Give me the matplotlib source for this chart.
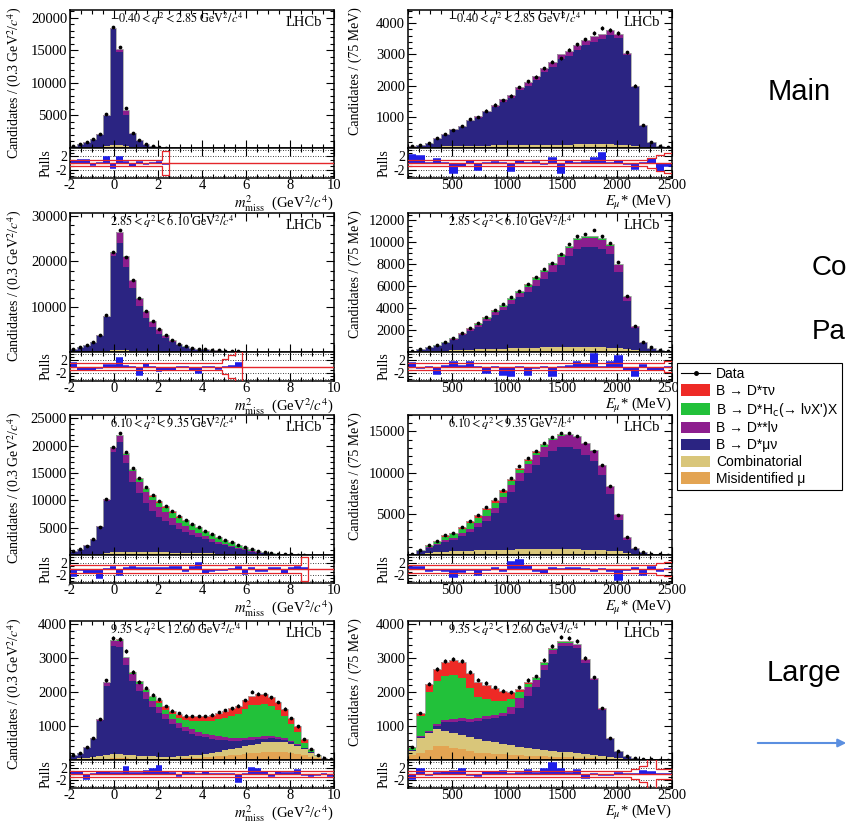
import numpy as np
import matplotlib
matplotlib.use("Agg")
import matplotlib.pyplot as plt
from matplotlib.ticker import MultipleLocator, FixedLocator
from matplotlib.lines import Line2D
from matplotlib.patches import Patch, FancyArrowPatch
from matplotlib.font_manager import FontProperties

plt.rcParams['font.family'] = ['Liberation Serif', 'DejaVu Serif']
plt.rcParams['mathtext.fontset'] = 'stix'
plt.rcParams['axes.unicode_minus'] = False

# ---------------- binning ----------------
mm_edges = np.linspace(-2.0, 10.0, 41)    # 0.3 GeV^2/c^4 bins
e_edges = np.linspace(100.0, 2500.0, 33)  # 75 MeV bins

q2_labels = [r"$-0.40 < q^{2} < 2.85\ \mathrm{GeV}^{2}/c^{4}$",
             r"$2.85 < q^{2} < 6.10\ \mathrm{GeV}^{2}/c^{4}$",
             r"$6.10 < q^{2} < 9.35\ \mathrm{GeV}^{2}/c^{4}$",
             r"$9.35 < q^{2} < 12.60\ \mathrm{GeV}^{2}/c^{4}$"]

legend_labels = ["Data", "B → D*τν", "B → D*H$_{\\rm c}$(→ lνX')X", "B → D**lν",
                 "B → D*μν", "Combinatorial", "Misidentified μ"]

# ---------------- row 1, m2miss ----------------
r1m_data = [300, 560, 850, 1400, 2200, 5200, 18600, 15500, 6100, 2300, 1200, 560, 260, 100, 40]
r1m_fit = [300, 560, 870, 1400, 2150, 5100, 18500, 15200, 5900, 2350, 1180, 560, 260, 100, 40]
r1m_mis = [20, 30, 40, 50, 60, 100, 150, 150, 100, 60, 40, 20, 10, 5, 2]
r1m_comb = [30, 40, 60, 80, 100, 200, 300, 300, 200, 100, 60, 30, 15, 5, 3]
r1m_dss = [10, 20, 30, 50, 80, 150, 200, 500, 800, 150, 100, 50, 20, 10, 5]
r1m_hc = [0] * 15
r1m_tau = [0] * 15
r1m_pull = [0.5, 0.8, 0.8, -0.5, 0, 1.8, -1.5, 1.8, 0.3, -0.8, 0.3, -0.2, 0, 0.2, -0.3]
r1m_band = [1.0] * 14 + [3.5]

# ---------------- row 2, m2miss ----------------
r2m_data = [735, 1180, 1540, 2200, 3700, 8100, 22000, 27000, 21000, 16000, 11900, 9000, 6800,
            5000, 3800, 2600, 1840, 1250, 950, 740, 590, 440, 370, 300, 220, 150]
r2m_fit = [700, 1150, 1550, 2250, 3650, 8000, 22000, 26600, 21200, 16000, 12000, 9100, 6800,
           5000, 3800, 2650, 1850, 1280, 950, 760, 600, 450, 370, 300, 220, 140]
r2m_mis = [15, 20, 25, 30, 40, 60, 80, 80, 70, 60, 50, 40, 30, 25, 20, 15, 10, 8, 6, 5, 4, 3, 2, 2, 1, 1]
r2m_comb = [40, 60, 80, 100, 130, 200, 300, 300, 280, 250, 200, 150, 120, 90, 70, 50, 40, 30, 25,
            20, 15, 10, 8, 5, 3, 2]
r2m_dss = [20, 40, 60, 90, 150, 300, 800, 2500, 2400, 1800, 1600, 1250, 1000, 740, 500, 350, 250,
           170, 110, 80, 60, 40, 30, 20, 15, 10]
r2m_hc = [0, 0, 0, 0, 5, 10, 30, 60, 80, 100, 150, 200, 200, 180, 150, 120, 90, 70, 50, 40, 30,
          20, 15, 10, 5, 3]
r2m_tau = [0, 0, 0, 0, 0, 5, 10, 20, 30, 40, 50, 60, 60, 50, 40, 30, 25, 20, 15, 10, 8, 5, 3, 2, 1, 0]
r2m_pull = [1, -1.2, -1.2, -1.2, -0.5, 0.5, 0.5, 2.5, 0.3, 0, -2.5, 0.7, -0.3, -1.3, -1, -1, 0,
            0, -1.2, -2, -0.3, -0.3, -0.8, 0, 0.2, 1]
r2m_band = [1.2] * 23 + [2.2, 3.6, 4.8]

# ---------------- row 3, m2miss ----------------
r3m_data = [730, 1100, 1700, 2870, 5200, 10300, 19800, 22250, 18900, 16000, 14100, 12400, 11000,
            9900, 8960, 8050, 7130, 6400, 5730, 5120, 4450, 3840, 3300, 2800, 2300, 1900, 1520,
            1100, 790, 550, 370, 240, 180, 120, 60, 40]
r3m_fit = [800, 1150, 1750, 2850, 5250, 10300, 19700, 22000, 18600, 15800, 14000, 12300, 10900,
           9800, 8900, 8000, 7100, 6400, 5700, 5100, 4450, 3850, 3300, 2800, 2300, 1900, 1520,
           1100, 790, 550, 370, 240, 180, 120, 60, 40]
r3m_mis = [15, 20, 25, 30, 50, 100, 150, 150, 150, 150, 150, 150, 140, 130, 120, 110, 100, 90, 80,
           70, 60, 55, 50, 45, 40, 35, 30, 25, 20, 15, 10, 8, 5, 4, 3, 2]
r3m_comb = [50, 70, 90, 120, 180, 300, 400, 450, 450, 450, 450, 420, 400, 380, 360, 340, 320, 300,
            280, 260, 240, 220, 200, 180, 160, 140, 120, 100, 80, 60, 50, 40, 30, 25, 15, 10]
r3m_dss = [20, 30, 50, 80, 150, 400, 800, 1100, 1500, 1900, 2100, 2000, 1900, 1800, 1600, 1400,
           1200, 1000, 850, 700, 550, 450, 350, 280, 200, 150, 110, 80, 50, 30, 20, 10, 5, 3, 2, 1]
r3m_hc = [0, 0, 0, 5, 10, 50, 100, 150, 250, 350, 450, 600, 700, 800, 850, 900, 900, 900, 900,
          850, 800, 750, 700, 620, 550, 480, 400, 320, 250, 180, 120, 80, 50, 30, 15, 8]
r3m_tau = [0, 0, 0, 0, 5, 0, 30, 50, 80, 120, 150, 200, 230, 250, 270, 280, 280, 270, 260, 240,
           220, 200, 180, 160, 140, 120, 100, 80, 60, 40, 30, 20, 10, 5, 3, 2]
r3m_pull = [-2.3, -0.3, -1.3, -1.3, -3, 0, 0.5, -1.8, 0.3, 0.6, 0.3, 0.2, 0.2, 0.2, 0.3, 0.5, 0.5,
            -0.5, 0.8, 2, -1.2, -0.8, -0.3, -0.3, 0, 0.7, -1.5, 0.3, -0.5, -0.5, 0.2, 0.4, -1.2,
            0.3, 0.5, 0.3]
r3m_band = [1.2] * 35 + [4.0]

# ---------------- row 4, m2miss ----------------
r4m_data = [150, 220, 370, 640, 1200, 2350, 3590, 3560, 3220, 2600, 2310, 2130, 1920, 1790, 1590,
            1460, 1380, 1310, 1300, 1300, 1300, 1340, 1410, 1480, 1520, 1600, 1770, 2010, 1960,
            1940, 1850, 1710, 1510, 1240, 990, 610, 330, 150, 50, 20]
r4m_fit = [150, 220, 370, 640, 1200, 2300, 3550, 3560, 3050, 2600, 2320, 2105, 1900, 1760, 1580,
           1460, 1370, 1310, 1290, 1295, 1310, 1335, 1390, 1460, 1520, 1595, 1760, 1900, 1935,
           1950, 1855, 1715, 1510, 1245, 990, 615, 335, 150, 51, 20]
r4m_mis = [10, 15, 20, 25, 30, 40, 50, 50, 45, 40, 35, 30, 30, 30, 30, 35, 40, 45, 55, 65, 80, 95,
           110, 125, 140, 160, 180, 200, 220, 240, 250, 250, 240, 220, 190, 150, 100, 50, 20, 8]
r4m_comb = [30, 40, 50, 60, 80, 100, 120, 120, 110, 100, 90, 80, 75, 70, 65, 65, 70, 75, 85, 95,
            110, 125, 140, 160, 180, 200, 220, 240, 260, 280, 290, 290, 280, 260, 220, 170, 110,
            60, 20, 8]
r4m_dss = [5, 10, 15, 25, 50, 100, 150, 200, 200, 200, 200, 190, 180, 170, 160, 150, 140, 130, 120,
           115, 110, 105, 100, 95, 90, 85, 80, 80, 75, 70, 65, 60, 50, 40, 30, 20, 10, 5, 2, 1]
r4m_hc = [0, 0, 0, 0, 0, 10, 20, 30, 30, 40, 50, 70, 90, 110, 130, 150, 170, 200, 250, 310, 370,
          430, 500, 570, 640, 700, 840, 950, 950, 960, 880, 780, 650, 480, 350, 150, 60, 17, 4, 1]
r4m_tau = [0, 0, 0, 0, 0, 0, 10, 10, 15, 20, 25, 35, 55, 80, 95, 110, 120, 130, 140, 150, 160, 170,
           190, 210, 220, 240, 260, 280, 300, 290, 270, 250, 220, 190, 160, 100, 40, 10, 2, 1]
r4m_pull = [0.7, 0.8, -1.5, 0, 0.8, 0.5, 0.3, 0.3, 2.2, 0.4, 0.4, 1, 1.5, 2.5, 0.8, 0.4, -0.5,
            0.5, 0.3, 0, 0.8, 0, 0, 0, 0, -2.5, 0, 1.8, 1.6, 0.8, -0.8, 0.5, 0.3, 0.3, 1.2, -0.3,
            -0.5, -0.3, 0, -0.8]
r4m_band = [1.1] * 40

# ---------------- row 1, E_mu ----------------
r1e_data = [70, 100, 175, 330, 440, 580, 700, 940, 1000, 1200, 1390, 1530, 1680, 1950, 2130, 2290,
            2550, 2760, 2870, 3150, 3320, 3480, 3690, 3850, 3770, 3690, 3060, 2000, 730, 200, 70, 30]
r1e_fit = [50, 100, 170, 310, 440, 600, 720, 900, 1030, 1200, 1370, 1560, 1690, 1950, 2110, 2300,
           2550, 2740, 3000, 3120, 3300, 3470, 3580, 3650, 3780, 3650, 3050, 2000, 730, 200, 70, 30]
r1e_mis = [5, 5, 10, 10, 15, 15, 20, 20, 20, 25, 25, 25, 30, 30, 30, 30, 35, 35, 35, 35, 35, 35,
           35, 35, 35, 30, 25, 20, 10, 5, 2, 1]
r1e_comb = [15, 20, 25, 30, 35, 40, 45, 50, 55, 55, 60, 60, 65, 65, 70, 70, 70, 75, 75, 75, 80, 80,
            85, 85, 80, 75, 60, 40, 20, 10, 5, 2]
r1e_dss = [5, 10, 15, 20, 25, 30, 40, 50, 55, 60, 70, 80, 90, 100, 110, 120, 130, 140, 150, 160,
           170, 170, 170, 160, 150, 120, 80, 50, 20, 5, 2, 1]
r1e_hc = [0] * 32
r1e_tau = [0] * 32
r1e_pull = [2.5, 2, 0, 1.3, 0, -3, -1, 0.5, -2, 0, 0.2, 0, -2.5, 0.5, 0, 0.2, -0.2, 1.5, -3, 0.5,
            0, 0.3, 1.5, 3, 0, 0.5, -0.3, -1.8, 0, 1.2, -2.3, -0.8]
r1e_band = [1.0] * 29 + [1.6, 2.5, 3.0]

# ---------------- row 2, E_mu ----------------
r2e_data = [110, 260, 475, 630, 930, 1300, 1700, 2150, 2600, 3150, 3830, 4350, 4980, 5600, 6170,
            6800, 7550, 8150, 8920, 9830, 10530, 10780, 11150, 10530, 9920, 8180, 5140, 2390, 930,
            415, 200, 110]
r2e_fit = [110, 260, 470, 620, 900, 1250, 1700, 2150, 2600, 3150, 3800, 4300, 4950, 5600, 6170,
           6800, 7500, 8150, 8900, 9700, 10400, 10600, 10600, 10400, 9800, 8000, 5100, 2400, 900,
           400, 200, 110]
r2e_mis = [10, 15, 20, 25, 30, 35, 40, 45, 50, 55, 60, 65, 70, 75, 80, 85, 90, 95, 100, 100, 100,
           100, 100, 95, 90, 80, 65, 45, 25, 10, 5, 2]
r2e_comb = [20, 40, 60, 80, 100, 120, 140, 160, 180, 200, 220, 240, 260, 280, 300, 320, 330, 340,
            350, 360, 360, 360, 350, 340, 320, 280, 220, 150, 80, 30, 15, 5]
r2e_dss = [5, 15, 30, 40, 60, 90, 120, 150, 190, 230, 280, 320, 370, 420, 460, 510, 570, 620, 680,
           740, 800, 820, 840, 820, 760, 620, 380, 170, 60, 20, 8, 3]
r2e_hc = [5, 10, 20, 25, 35, 50, 60, 75, 90, 100, 120, 130, 140, 150, 160, 170, 180, 185, 190, 190,
          190, 180, 170, 150, 120, 90, 60, 30, 10, 5, 2, 1]
r2e_tau = [0, 2, 4, 5, 8, 10, 15, 20, 25, 30, 35, 40, 45, 50, 55, 60, 60, 60, 55, 50, 45, 40, 35,
           30, 25, 20, 15, 8, 3, 1, 0, 0]
r2e_pull = [1, -0.5, 0, -2.3, 0.3, 1.5, 0.3, 1.5, 0, -2, 0, -2.5, -2.8, 0, -2.5, -0.5, 0, -3, 0,
            0.2, 1.5, 0.8, 4, 0, 1.5, 3.2, -1.2, -3, 0.5, -1, -1.2, 0]
r2e_band = [1.2] * 31 + [1.6]

# ---------------- row 3, E_mu ----------------
r3e_data = [100, 590, 1240, 1730, 2390, 2710, 3450, 4180, 4880, 5820, 6760, 7940, 9370, 10800,
            11730, 12670, 13570, 14270, 14760, 14760, 14510, 13650, 12670, 10920, 8390, 4880, 2220,
            840, 390, 180, 100, 20]
r3e_fit = [100, 580, 1220, 1720, 2380, 2700, 3450, 4150, 4850, 5750, 6650, 7850, 9250, 10600,
           11650, 12600, 13500, 14250, 14700, 14700, 14450, 13600, 12700, 10900, 8400, 4950, 2200,
           850, 390, 180, 100, 20]
r3e_mis = [20, 60, 100, 120, 150, 160, 170, 175, 175, 170, 165, 160, 155, 150, 145, 140, 135, 130,
           125, 120, 110, 100, 90, 80, 70, 55, 40, 25, 10, 5, 3, 1]
r3e_comb = [30, 80, 150, 200, 250, 280, 320, 350, 380, 410, 440, 470, 500, 520, 540, 560, 570, 580,
            590, 590, 580, 560, 540, 500, 450, 380, 260, 130, 50, 20, 10, 3]
r3e_dss = [5, 30, 80, 120, 180, 220, 300, 380, 450, 550, 600, 650, 800, 950, 1050, 1150, 1250,
           1350, 1420, 1450, 1450, 1400, 1300, 1150, 950, 700, 400, 170, 60, 25, 10, 2]
r3e_hc = [5, 60, 200, 300, 400, 450, 550, 650, 700, 700, 650, 550, 500, 450, 400, 330, 250, 180,
          120, 80, 50, 30, 20, 10, 5, 3, 2, 1, 0, 0, 0, 0]
r3e_tau = [2, 20, 80, 120, 180, 200, 250, 300, 320, 330, 320, 300, 280, 250, 220, 180, 140, 100,
           70, 50, 30, 20, 10, 5, 3, 2, 1, 0, 0, 0, 0, 0]
r3e_pull = [0.5, 0.5, -0.5, -0.2, -0.8, -2.5, -1, -0.3, -2, -0.2, 0.3, -0.8, 2.3, 2.8, 1, -0.7,
            -1.2, 0.3, 0, 0.3, 0.3, 0, -0.7, 0, -0.5, -3.5, -0.2, 0.2, -1.8, 0.8, -0.5, 0]
r3e_band = [1.3] * 30 + [1.8, 2.2]

# ---------------- row 4, E_mu ----------------
r4e_data = [390, 1390, 2250, 2680, 2920, 2980, 2920, 2590, 2370, 2270, 2140, 2040, 2000, 2140,
            2360, 2470, 2940, 3370, 3640, 3590, 3520, 3000, 2440, 1530, 660, 270, 120, 60, 30, 20,
            10, 5]
r4e_fit = [390, 1390, 2250, 2680, 2900, 2950, 2880, 2560, 2300, 2220, 2120, 2040, 2010, 2100,
           2300, 2450, 2880, 3300, 3500, 3500, 3430, 2970, 2430, 1520, 660, 270, 120, 60, 30, 20,
           10, 5]
r4e_mis = [150, 200, 300, 400, 400, 360, 320, 280, 220, 200, 180, 170, 160, 140, 130, 120, 110,
           100, 90, 80, 70, 60, 50, 40, 25, 15, 8, 4, 2, 1, 0, 0]
r4e_comb = [120, 450, 500, 520, 470, 440, 420, 400, 390, 370, 340, 310, 290, 250, 230, 200, 180,
            170, 160, 150, 140, 130, 110, 90, 60, 30, 15, 8, 4, 2, 1, 0]
r4e_dss = [10, 20, 30, 50, 60, 80, 90, 100, 80, 80, 90, 100, 200, 300, 250, 200, 150, 120, 100,
           100, 90, 80, 60, 40, 20, 10, 5, 2, 1, 0, 0, 0]
r4e_hc = [60, 600, 1150, 1270, 1300, 1310, 1200, 900, 610, 500, 420, 340, 260, 170, 100, 60, 40,
          30, 30, 30, 20, 15, 10, 5, 3, 2, 1, 0, 0, 0, 0, 0]
r4e_tau = [30, 90, 250, 350, 420, 440, 450, 450, 450, 420, 380, 310, 200, 100, 60, 40, 30, 20, 20,
           20, 15, 10, 8, 5, 3, 2, 1, 0, 0, 0, 0, 0]
r4e_pull = [-1.5, 1.7, -0.3, 0.3, 0.5, 1, 1.5, -0.3, -0.8, 0.7, 0.7, 1, 0, 0.4, 1.2, 0.3, 1.5,
            3.5, 1.5, 0.2, 1.2, -1.2, 0, -0.3, -0.3, 0.3, 0, 0, 1, 0.8, 0, 0]
r4e_band = [1.0] * 27 + [1.5, 2.5, 4.8, 1.5, 1.5]

# ---------------- styling ----------------
W, H = 846, 823
C_MIS = '#e3a452'
C_COMB = '#d9c67a'
C_DMU = '#2b2482'
C_DSS = '#8d1e8e'
C_HC = '#22c13a'
C_TAU = '#ee2a26'
C_PULL = '#1e1ee8'
C_RED = '#e4262a'
PULL_LIM = 4.5

fig = plt.figure(figsize=(W / 100, H / 100), dpi=100)


def fx(px):
    return px / W


def fy(px):
    return 1 - px / H


ROWS = [(10, 148, 178), (213, 352, 381), (415, 555, 583), (621, 760, 788)]
COLX = [70, 408]
AX_W = 264


def pad(a, n):
    a = np.asarray(a, dtype=float)
    return np.concatenate([a, np.zeros(n - len(a))])


def style_axis(ax):
    for s in ax.spines.values():
        s.set_linewidth(1.1)
    ax.tick_params(which='both', direction='in', top=True, right=True, labelsize=10.5,
                   width=0.8, pad=2)
    ax.tick_params(which='major', length=6)
    ax.tick_params(which='minor', length=3)


def panel(row, col, edges, data, fit, mis, comb, dss, hc, tau, pulls, band,
          ymax, ymaj, ymin_, ylab, xlab, xmaj, xmin_):
    n = len(edges) - 1
    top, mid, bot = ROWS[row]
    x0 = COLX[col]
    axm = fig.add_axes([fx(x0), fy(mid), AX_W / W, (mid - top) / H])
    axp = fig.add_axes([fx(x0), fy(bot), AX_W / W, (bot - mid) / H])

    data, fit, mis, comb, dss, hc, tau = [pad(a, n) for a in (data, fit, mis, comb, dss, hc, tau)]
    dmu = np.clip(fit - mis - comb - dss - hc - tau, 0, None)
    base = np.zeros(n)
    for vals, c in [(mis, C_MIS), (comb, C_COMB), (dmu, C_DMU), (dss, C_DSS), (hc, C_HC), (tau, C_TAU)]:
        axm.stairs(base + vals, edges, baseline=base.copy(), fill=True, color=c, lw=0)
        base = base + vals
    axm.stairs(base, edges, color='#a8a8a8', lw=0.6)
    centers = 0.5 * (edges[1:] + edges[:-1])
    m = data > 0
    axm.errorbar(centers[m], data[m], yerr=np.sqrt(data[m]), fmt='o', ms=2.7, mew=0, color='k',
                 elinewidth=0.8, capsize=0, zorder=5)
    axm.set_xlim(edges[0], edges[-1])
    axm.set_ylim(0, ymax)
    axm.yaxis.set_minor_locator(MultipleLocator(ymin_))
    axm.xaxis.set_major_locator(MultipleLocator(xmaj))
    axm.xaxis.set_minor_locator(MultipleLocator(xmin_))
    style_axis(axm)
    axm.tick_params(labelbottom=False)
    axm.set_yticks([t for t in np.arange(ymaj, ymax, ymaj)])
    axm.set_ylabel(ylab, fontsize=10, loc='top')
    axm.yaxis.set_label_coords(-0.175, 1.02)
    axm.text(0.15, 0.935, q2_labels[row], transform=axm.transAxes, fontsize=8.8,
             ha='left', va='center', zorder=6)
    axm.text(0.955, 0.91, 'LHCb', transform=axm.transAxes, fontsize=10.5,
             ha='right', va='center', zorder=6)

    # pulls
    npl = len(pulls)
    bw = edges[1] - edges[0]
    for yv in (-4, -2, 2, 4):
        axp.axhline(yv, color='k', lw=0.6, ls=(0, (1, 2)), zorder=0)
    axp.bar(centers[:npl], pulls, width=bw, color=C_PULL, lw=0, zorder=2)
    axp.hlines(pulls, edges[:npl], edges[1:npl + 1], color=C_PULL, lw=1.1, zorder=2)
    band = np.asarray(band, dtype=float)
    nb = len(band)
    xs = np.repeat(edges[:nb + 1], 2)[1:-1]
    ys = np.repeat(band, 2)
    if nb < n:
        xs = np.append(xs, edges[nb])
        ys = np.append(ys, 0)
    axp.plot(xs, ys, color=C_RED, lw=0.9, zorder=3)
    axp.plot(xs, -ys, color=C_RED, lw=0.9, zorder=3)
    axp.axhline(0, color=C_RED, lw=1.0, zorder=3)
    axp.set_xlim(edges[0], edges[-1])
    axp.set_ylim(-PULL_LIM, PULL_LIM)
    axp.yaxis.set_major_locator(FixedLocator([-2, 2]))
    axp.yaxis.set_minor_locator(MultipleLocator(1))
    axp.xaxis.set_major_locator(MultipleLocator(xmaj))
    axp.xaxis.set_minor_locator(MultipleLocator(xmin_))
    style_axis(axp)
    axp.tick_params(axis='y', labelsize=10)
    axp.tick_params(axis='x', pad=1)
    axp.set_yticklabels(['-2', '2'])
    axp.set_ylabel('Pulls', fontsize=10)
    axp.yaxis.set_label_coords(-0.068, 0.5)
    axp.set_xlabel(xlab, fontsize=10.5, loc='right', labelpad=0.5)
    return axm, axp


ylab_m = r"Candidates / (0.3 GeV$^{2}$/$c^{4}$)"
ylab_e = "Candidates / (75 MeV)"
xlab_m = r"$m^{2}_{\mathrm{miss}}$  (GeV$^{2}$/$c^{4}$)"
xlab_e = r"$E_{\mu}$* (MeV)"

panel(0, 0, mm_edges, r1m_data, r1m_fit, r1m_mis, r1m_comb, r1m_dss, r1m_hc, r1m_tau, r1m_pull,
      r1m_band, 21200, 5000, 1000, ylab_m, xlab_m, 2, 0.5)
panel(1, 0, mm_edges, r2m_data, r2m_fit, r2m_mis, r2m_comb, r2m_dss, r2m_hc, r2m_tau, r2m_pull,
      r2m_band, 30700, 10000, 2000, ylab_m, xlab_m, 2, 0.5)
panel(2, 0, mm_edges, r3m_data, r3m_fit, r3m_mis, r3m_comb, r3m_dss, r3m_hc, r3m_tau, r3m_pull,
      r3m_band, 25600, 5000, 1000, ylab_m, xlab_m, 2, 0.5)
panel(3, 0, mm_edges, r4m_data, r4m_fit, r4m_mis, r4m_comb, r4m_dss, r4m_hc, r4m_tau, r4m_pull,
      r4m_band, 4100, 1000, 200, ylab_m, xlab_m, 2, 0.5)
panel(0, 1, e_edges, r1e_data, r1e_fit, r1e_mis, r1e_comb, r1e_dss, r1e_hc, r1e_tau, r1e_pull,
      r1e_band, 4420, 1000, 200, ylab_e, xlab_e, 500, 100)
panel(1, 1, e_edges, r2e_data, r2e_fit, r2e_mis, r2e_comb, r2e_dss, r2e_hc, r2e_tau, r2e_pull,
      r2e_band, 12670, 2000, 500, ylab_e, xlab_e, 500, 100)
panel(2, 1, e_edges, r3e_data, r3e_fit, r3e_mis, r3e_comb, r3e_dss, r3e_hc, r3e_tau, r3e_pull,
      r3e_band, 17000, 5000, 1000, ylab_e, xlab_e, 500, 100)
panel(3, 1, e_edges, r4e_data, r4e_fit, r4e_mis, r4e_comb, r4e_dss, r4e_hc, r4e_tau, r4e_pull,
      r4e_band, 4100, 1000, 200, ylab_e, xlab_e, 500, 100)

# ---------------- legend ----------------
handles = [Line2D([0], [0], color='k', lw=0.8, marker='o', ms=2.5),
           Patch(facecolor=C_TAU), Patch(facecolor=C_HC), Patch(facecolor=C_DSS),
           Patch(facecolor=C_DMU), Patch(facecolor=C_COMB), Patch(facecolor=C_MIS)]
lp = FontProperties(family=['Liberation Sans', 'DejaVu Sans'], size=10, math_fontfamily='dejavusans')
leg = fig.legend(handles, legend_labels, loc='upper left', bbox_to_anchor=(fx(677), fy(363)),
                 prop=lp, frameon=True, fancybox=False, edgecolor='k', framealpha=1,
                 borderpad=0.3, borderaxespad=0, labelspacing=0.2, handlelength=2.1,
                 handleheight=0.9, handletextpad=0.4)
leg.get_frame().set_linewidth(0.8)
leg.set_zorder(20)

# ---------------- side annotations ----------------
sans = ['Liberation Sans', 'DejaVu Sans']
fig.text(fx(768), fy(92), "Main", fontsize=21, family=sans, va='center', ha='left')
fig.text(fx(812), fy(268), "Co", fontsize=20, family=sans, va='center', ha='left')
fig.text(fx(812), fy(332), "Pa", fontsize=20, family=sans, va='center', ha='left')
fig.text(fx(767), fy(673), "Large", fontsize=21, family=sans, va='center', ha='left')
fig.add_artist(FancyArrowPatch((fx(755), fy(743)), (fx(849), fy(743)), transform=fig.transFigure,
                               arrowstyle='-|>', mutation_scale=12, color='#5b8fe0', lw=1.5))

fig.savefig('out.png', dpi=100)
